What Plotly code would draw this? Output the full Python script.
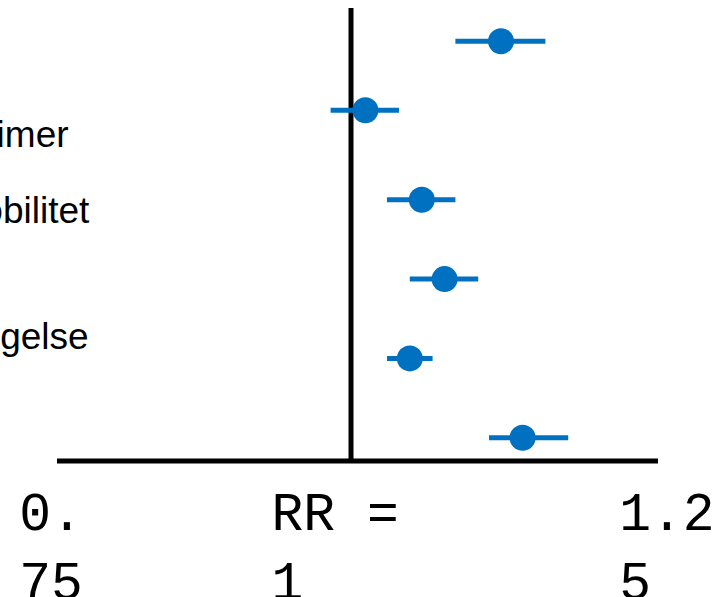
import plotly.graph_objects as go

# --- data ---
rr = [1.125, 1.012, 1.059, 1.078, 1.049, 1.143]
ci_low = [1.087, 0.983, 1.030, 1.049, 1.030, 1.115]
ci_high = [1.162, 1.040, 1.087, 1.106, 1.068, 1.181]
row_pos = [6, 5.13, 4, 3, 2, 1]

label_texts = ["Demens/Alzheimer", "Nedsat mobilitet", "Indlæggelse"]
label_rows = [4.83, 3.87, 2.27]

tick_vals = [0.75, 1.0, 1.25]
tick_text = ["0.<br>75", "RR =\u00a0<br>1\u00a0\u00a0\u00a0\u00a0", "\u00a01.2<br>\u00a05\u00a0\u00a0"]

blue = "#0070C0"

fig = go.Figure()
fig.add_trace(go.Scatter(
    x=rr, y=row_pos, mode="markers",
    marker=dict(size=26, color=blue),
    error_x=dict(type="data", symmetric=False,
                 array=[h - r for h, r in zip(ci_high, rr)],
                 arrayminus=[r - l for r, l in zip(rr, ci_low)],
                 thickness=5, width=0, color=blue),
    showlegend=False, cliponaxis=False,
))

# reference line at RR = 1
fig.add_shape(type="line", xref="x", yref="paper", x0=1, x1=1, y0=0, y1=1,
              line=dict(color="black", width=5), layer="below")
# baseline axis line
fig.add_shape(type="line", xref="paper", yref="paper", x0=0.01, x1=1.0117, y0=0, y1=0,
              line=dict(color="black", width=5), layer="above")

label_ends = [0.034, 0.068, 0.066]
for txt, yv, xe in zip(label_texts, label_rows, label_ends):
    fig.add_annotation(text=txt, x=xe, y=yv, xref="paper", yref="y",
                       xanchor="right", yanchor="middle", showarrow=False,
                       font=dict(family="Liberation Sans, Arial", size=37, color="black"))

fig.update_xaxes(range=[0.75, 1.25], tickvals=tick_vals, ticktext=tick_text,
                 showgrid=False, zeroline=False, showline=False, ticks="",
                 automargin=False,
                 tickfont=dict(family="Liberation Mono, Courier New, monospace", size=53, color="black"),
                 ticklabelstandoff=15)
fig.update_yaxes(range=[0.706, 6.419], visible=False, showgrid=False, zeroline=False,
                 automargin=False)

fig.update_layout(width=723, height=597, margin=dict(l=51, r=72, t=8, b=136, autoexpand=False),
                  plot_bgcolor="white", paper_bgcolor="white", hovermode=False)

fig.write_html("out.html", config={"displayModeBar": False},
               post_script="document.body.style.margin='0';document.body.style.overflow='hidden';")
